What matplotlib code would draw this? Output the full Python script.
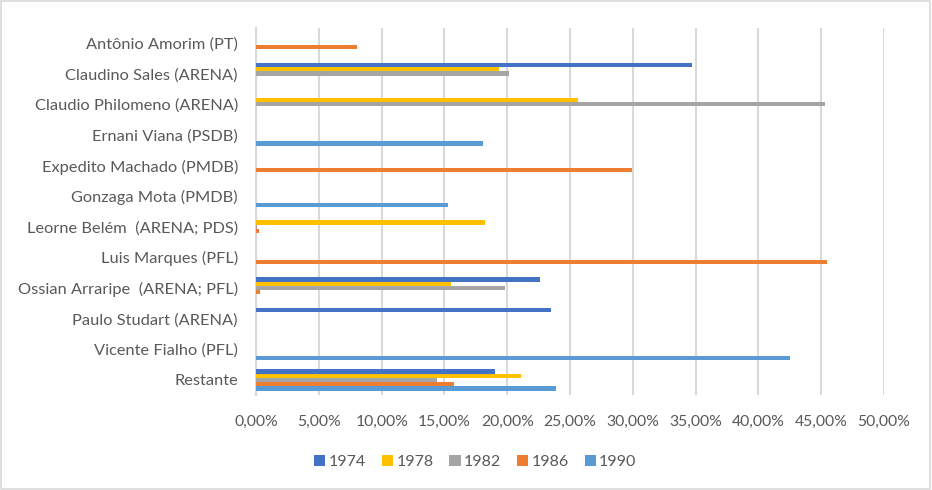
import numpy as np
import matplotlib
matplotlib.use("Agg")
import matplotlib.pyplot as plt
from matplotlib.patches import Rectangle

plt.rcParams['font.family'] = ['Lato', 'DejaVu Sans']

# ── data (percent of votes) ──
categories = [
    "Antônio Amorim (PT)", "Claudino Sales (ARENA)", "Claudio Philomeno (ARENA)",
    "Ernani Viana (PSDB)", "Expedito Machado (PMDB)", "Gonzaga Mota (PMDB)",
    "Leorne Belém  (ARENA; PDS)", "Luis Marques (PFL)", "Ossian Arraripe  (ARENA; PFL)",
    "Paulo Studart (ARENA)", "Vicente Fialho (PFL)", "Restante",
]
years = ["1974", "1978", "1982", "1986", "1990"]
v1974 = [0, 34.7, 0, 0, 0, 0, 0, 0, 22.6, 23.5, 0, 19.0]
v1978 = [0, 19.35, 25.6, 0, 0, 0, 18.2, 0, 15.5, 0, 0, 21.1]
v1982 = [0, 20.15, 45.3, 0, 0, 0, 0.05, 0, 19.8, 0, 0, 14.4]
v1986 = [8.05, 0, 0, 0, 29.95, 0, 0.2, 45.5, 0.3, 0, 0, 15.8]
v1990 = [0, 0, 0, 18.05, 0, 15.3, 0, 0, 0, 0, 42.55, 23.9]
xticks = [0, 5, 10, 15, 20, 25, 30, 35, 40, 45, 50]
xticklabels = ["0,00%", "5,00%", "10,00%", "15,00%", "20,00%", "25,00%",
               "30,00%", "35,00%", "40,00%", "45,00%", "50,00%"]

colors = ["#4472C4", "#FFC000", "#A5A5A5", "#ED7D31", "#5B9BD5"]
series = [v1974, v1978, v1982, v1986, v1990]
text_col = "#595959"

fig = plt.figure(figsize=(9.32, 4.9), dpi=100)
ax = fig.add_axes([0.2747, 0.1933, 0.6738, 0.7502])

y = np.arange(len(categories))
h = 0.14
for i, (vals, yr, c) in enumerate(zip(series, years, colors)):
    ax.barh(y + (i - 2) * h, vals, height=h, color=c, label=yr, zorder=3)

ax.set_ylim(len(categories) - 0.5, -0.5)
ax.set_xlim(0, 50)
ax.set_yticks(y)
ax.set_yticklabels(categories, fontsize=11.8, color=text_col)
ax.set_xticks(xticks)
ax.set_xticklabels(xticklabels, fontsize=11.3, color=text_col)
ax.tick_params(axis='both', length=0)
ax.tick_params(axis='x', pad=14)
ax.tick_params(axis='y', pad=13)
ax.grid(axis='x', color="#D9D9D9", lw=1.5, zorder=0)
for s in ["top", "right", "bottom"]:
    ax.spines[s].set_visible(False)
ax.spines["left"].set_color("#D9D9D9")
ax.spines["left"].set_linewidth(1.5)

fig.legend(loc="center", bbox_to_anchor=(0.51, 0.057), ncol=5, frameon=False,
           fontsize=11.5, labelcolor=text_col, handlelength=0.7, handleheight=0.7,
           handletextpad=0.2, columnspacing=1.0)

fig.patches.append(Rectangle((0.001, 0.002), 0.997, 0.996, transform=fig.transFigure,
                             fill=False, edgecolor="#D9D9D9", lw=1.2))

plt.savefig("out.png", dpi=100)
